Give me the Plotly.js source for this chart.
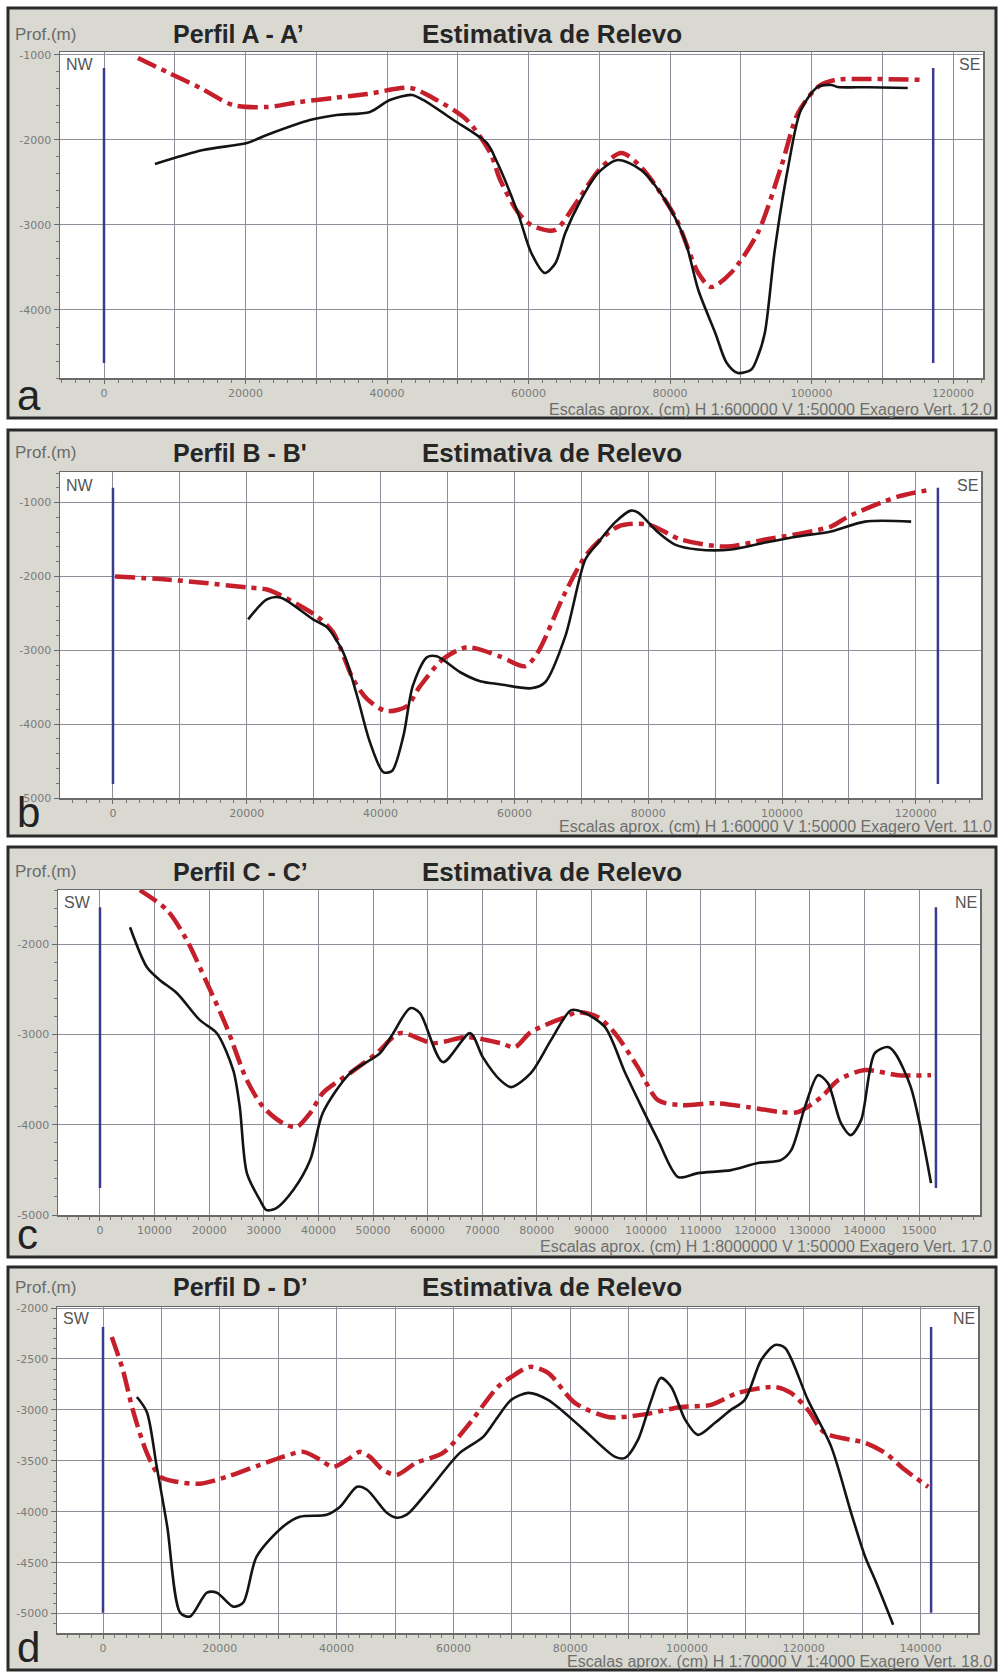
<!DOCTYPE html>
<html><head><meta charset="utf-8">
<script src="https://cdn.plot.ly/plotly-3.0.1.min.js"></script>
<style>html,body{margin:0;padding:0;background:#fff;}#chart{width:998px;height:1672px;}</style>
</head><body><div id="chart"></div>
<script>
// ---------------- DATA ----------------
// Panel a : Perfil A - A'
const aBlackX = [7200,14000,20200,23000,29100,32900,37600,40400,43500,45100,49400,54100,55500,58500,60400,62300,63800,65200,67400,69800,72600,75900,79300,82100,84000,86400,88000,89600,91500,92400,93400,94800,96700,98500,100900,102800,103700,108000,113600];
const aBlackY = [-2282,-2118,-2035,-1941,-1765,-1706,-1670,-1529,-1470,-1529,-1765,-2035,-2250,-2860,-3330,-3565,-3450,-3094,-2706,-2390,-2235,-2353,-2706,-3176,-3765,-4270,-4620,-4741,-4700,-4550,-4270,-3300,-2318,-1647,-1376,-1353,-1376,-1380,-1388];
const aRedX = [4800,8900,13600,18200,23000,27700,32400,37200,43300,46500,51300,54600,56000,58500,60400,63700,67000,70000,73100,75900,80700,84000,85800,88600,92400,95700,98100,100900,103300,107600,116000];
const aRedY = [-1035,-1200,-1388,-1588,-1612,-1553,-1506,-1459,-1388,-1506,-1765,-2153,-2470,-2850,-3000,-3060,-2706,-2350,-2153,-2318,-2900,-3565,-3730,-3565,-3094,-2318,-1682,-1376,-1294,-1282,-1294];
const aBoundX = [0, 117200];
const aBoundY = [-1153, -4624];
const aXTicks = [0,10000,20000,30000,40000,50000,60000,70000,80000,90000,100000,110000,120000];
const aXLabels = ['0','','20000','','40000','','60000','','80000','','100000','','120000'];
const aYTicks = [-1000,-2000,-3000,-4000];
const aYLabels = ['-1000','-2000','-3000','-4000'];

// Panel b : Perfil B - B'
const bBlackX = [20200,23000,25000,29900,32000,34400,36500,38400,40400,41700,43400,44800,46900,48400,51900,54900,57800,62500,64600,67600,70600,72500,75000,77400,78500,81500,84000,87400,92400,97500,102400,107300,112400,119300];
const bBlackY = [-2581,-2311,-2284,-2581,-2689,-3027,-3622,-4243,-4649,-4635,-4162,-3486,-3095,-3081,-3297,-3419,-3459,-3514,-3432,-2811,-1770,-1541,-1270,-1108,-1135,-1405,-1568,-1635,-1635,-1541,-1459,-1392,-1257,-1257];
const bRedX = [300,8000,13000,20000,23000,25400,30500,32900,35900,38000,40900,43900,45900,49300,52900,57800,61600,63500,67600,71000,75500,80000,84900,91500,97500,107300,109900,117300,122300];
const bRedY = [-2000,-2041,-2081,-2149,-2176,-2270,-2541,-2757,-3392,-3662,-3824,-3757,-3486,-3122,-2959,-3081,-3216,-3027,-2216,-1676,-1324,-1297,-1500,-1595,-1500,-1324,-1189,-919,-824];
const bBoundX = [0, 123300];
const bBoundY = [-797, -4811];
const bXTicks = aXTicks;
const bXLabels = aXLabels;
const bYTicks = [-1000,-2000,-3000,-4000,-5000];
const bYLabels = ['-1000','-2000','-3000','-4000','-5000'];

// Panel c : Perfil C - C'
const cBlackX = [5500,8600,11000,14100,18300,21400,24400,25600,26900,29300,30500,32300,35400,38500,40800,45800,51300,53700,56800,58600,62800,67800,70100,73300,75300,78900,82600,86300,88800,92500,96200,99200,102200,105900,109500,115600,120500,124700,126600,129100,131500,133300,135700,137500,139400,141900,144300,145600,148500,152200];
const cBlackY = [-1812,-2255,-2399,-2543,-2842,-2986,-3395,-3805,-4536,-4835,-4946,-4924,-4724,-4392,-3871,-3428,-3207,-2986,-2709,-2764,-3306,-2986,-3251,-3506,-3583,-3428,-3063,-2731,-2764,-2919,-3428,-3805,-4170,-4580,-4536,-4503,-4425,-4392,-4281,-3805,-3451,-3539,-3982,-4115,-3949,-3207,-3140,-3207,-3583,-4647];
const cRedX = [7300,12300,15900,19600,23200,26900,29900,33500,36000,38500,40800,45800,50700,54900,61000,67200,73300,76000,78900,85200,87500,91200,94300,98500,102200,106400,112600,118700,124700,127800,132100,135200,140100,146200,152200];
const cRedY = [-1402,-1624,-1956,-2432,-2919,-3506,-3805,-3982,-4026,-3871,-3650,-3428,-3207,-2986,-3096,-3030,-3096,-3140,-2974,-2808,-2753,-2808,-2986,-3362,-3728,-3783,-3761,-3805,-3860,-3860,-3694,-3506,-3395,-3451,-3451];
const cBoundX = [0, 153100];
const cBoundY = [-1590, -4700];
const cXTicks = [0,10000,20000,30000,40000,50000,60000,70000,80000,90000,100000,110000,120000,130000,140000,150000];
const cXLabels = ['0','10000','20000','30000','40000','50000','60000','70000','80000','90000','100000','110000','120000','130000','140000','15000'];
const cYTicks = [-2000,-3000,-4000,-5000];
const cYLabels = ['-2000','-3000','-4000','-5000'];

// Panel d : Perfil D - D'
const dBlackX = [5800,7500,9200,11000,13200,14900,17800,19500,22300,24000,26300,30800,33700,38300,40600,43500,45200,48600,50300,52000,55400,61100,65100,67600,69900,72800,76200,81800,87700,89400,91600,93900,95500,97300,99700,101900,104800,107500,109900,112700,115100,116800,120700,124700,128100,130500,132200,135300];
const dBlackY = [-2873,-3020,-3559,-4147,-4990,-5029,-4794,-4794,-4931,-4892,-4441,-4147,-4049,-4029,-3951,-3755,-3784,-4010,-4059,-4029,-3814,-3422,-3265,-3069,-2902,-2833,-2902,-3167,-3461,-3471,-3294,-2902,-2686,-2775,-3098,-3245,-3127,-3000,-2902,-2510,-2363,-2392,-2902,-3363,-4010,-4441,-4667,-5108];
const dRedX = [1500,3400,5100,7500,9800,12700,16600,21200,26900,30800,34300,37200,39400,42300,44000,45700,47900,50300,53600,58200,62300,67600,69900,73100,76200,80800,86500,92100,99000,104100,108700,115100,117800,120700,123600,130500,133900,137300,141300];
const dRedY = [-2284,-2608,-3000,-3422,-3657,-3706,-3725,-3657,-3539,-3461,-3412,-3490,-3559,-3471,-3412,-3461,-3588,-3637,-3520,-3422,-3167,-2775,-2677,-2578,-2637,-2931,-3069,-3049,-2971,-2951,-2833,-2775,-2833,-3000,-3226,-3324,-3422,-3588,-3755];
const dBoundX = [0, 141800];
const dBoundY = [-2186, -4990];
const dXTicks = [0,10000,20000,30000,40000,50000,60000,70000,80000,90000,100000,110000,120000,130000,140000];
const dXLabels = ['0','','20000','','40000','','60000','','80000','','100000','','120000','','140000'];
const dYTicks = [-2000,-2500,-3000,-3500,-4000,-4500,-5000];
const dYLabels = ['-2000','-2500','-3000','-3500','-4000','-4500','-5000'];

const perfilTitles = ['Perfil A - A\u2019', "Perfil B - B'", 'Perfil C - C\u2019', 'Perfil D - D\u2019'];
const mainTitle = 'Estimativa de Relevo';
const yUnit = 'Prof.(m)';
const panelLetters = ['a','b','c','d'];
const leftDirs = ['NW','NW','SW','SW'];
const rightDirs = ['SE','SE','NE','NE'];
const escalas = [
  'Escalas aprox. (cm) H 1:600000 V 1:50000 Exagero Vert. 12.0',
  'Escalas aprox. (cm) H 1:60000 V 1:50000 Exagero Vert. 11.0',
  'Escalas aprox. (cm) H 1:8000000 V 1:50000 Exagero Vert. 17.0',
  'Escalas aprox. (cm) H 1:70000 V 1:4000 Exagero Vert. 18.0'
];

// ---------------- LAYOUT ----------------
const W = 998, H = 1672;
const PX = p => p / W;
const PY = p => 1 - p / H;
const FONT = 'Liberation Sans, Arial, Helvetica, sans-serif';

const panels = [
  {bx:aBlackX, by:aBlackY, rx:aRedX, ry:aRedY, ux:aBoundX, uy:aBoundY, xt:aXTicks, xl:aXLabels, yt:aYTicks, yl:aYLabels,
   frame:[8,8,996,418], plot:[60,52,983,378], xr:[-6220,124240], yr:[-4800,-965], titleY:34, escY:409, yMinor:200, xMinor:2000,
   dirY:55, letterY:420},
  {bx:bBlackX, by:bBlackY, rx:bRedX, ry:bRedY, ux:bBoundX, uy:bBoundY, xt:bXTicks, xl:bXLabels, yt:bYTicks, yl:bYLabels,
   frame:[8,430,996,836], plot:[60,472,981,798], xr:[-7920,129740], yr:[-5000,-585], titleY:453, escY:826, yMinor:200, xMinor:2000,
   dirY:476, letterY:837},
  {bx:cBlackX, by:cBlackY, rx:cRedX, ry:cRedY, ux:cBoundX, uy:cBoundY, xt:cXTicks, xl:cXLabels, yt:cYTicks, yl:cYLabels,
   frame:[8,847,996,1257], plot:[58,890,980,1215], xr:[-7690,161170], yr:[-5000,-1400], titleY:872, escY:1246, yMinor:200, xMinor:2000,
   dirY:893, letterY:1259},
  {bx:dBlackX, by:dBlackY, rx:dRedX, ry:dRedY, ux:dBoundX, uy:dBoundY, xt:dXTicks, xl:dXLabels, yt:dYTicks, yl:dYLabels,
   frame:[8,1267,996,1670], plot:[57,1307,978,1633], xr:[-7880,149830], yr:[-5190,-1990], titleY:1287, escY:1661, yMinor:100, xMinor:2000,
   dirY:1309, letterY:1672}
];

const traces = [];
const layout = {
  width: W, height: H,
  margin: {l:0, r:0, t:0, b:0},
  paper_bgcolor: '#ffffff',
  plot_bgcolor: 'rgba(0,0,0,0)',
  showlegend: false,
  font: {family: FONT},
  shapes: [],
  annotations: []
};

panels.forEach((p, i) => {
  const n = i === 0 ? '' : String(i + 1);
  const xa = 'x' + n, ya = 'y' + n;
  const [fx0, fy0, fx1, fy1] = p.frame;
  const [px0, py0, px1, py1] = p.plot;

  // boundary (blue) vertical lines
  traces.push({
    x: [p.ux[0], p.ux[0], null, p.ux[1], p.ux[1]],
    y: [p.uy[0], p.uy[1], null, p.uy[0], p.uy[1]],
    xaxis: xa, yaxis: ya, mode: 'lines', hoverinfo: 'skip',
    line: {color: '#3c3c8e', width: 2.5}
  });
  // red dash-dot profile
  traces.push({
    x: p.rx, y: p.ry, xaxis: xa, yaxis: ya, mode: 'lines', hoverinfo: 'skip',
    line: {color: '#c41f2b', width: 4.5, dash: '20px,6px,5px,6px', shape: 'spline', smoothing: 0.8}
  });
  // black profile
  traces.push({
    x: p.bx, y: p.by, xaxis: xa, yaxis: ya, mode: 'lines', hoverinfo: 'skip',
    line: {color: '#141414', width: 2.6, shape: 'spline', smoothing: 0.8}
  });

  const tickFont = {family: 'DejaVu Sans, sans-serif', size: 11, color: '#7a7a7a'};
  layout['xaxis' + n] = {
    domain: [PX(px0), PX(px1)], range: p.xr, anchor: ya,
    tickmode: 'array', tickvals: p.xt, ticktext: p.xl,
    showgrid: true, gridcolor: '#8e8e9a', gridwidth: 1, zeroline: false,
    showline: true, linecolor: '#6a6a6a', linewidth: 1.5, mirror: true,
    ticks: 'outside', ticklen: 4, tickcolor: '#6a6a6a', tickfont: tickFont,
    minor: {dtick: p.xMinor, tick0: 0, ticks: 'outside', ticklen: 3, tickcolor: '#777', showgrid: false},
    fixedrange: true
  };
  layout['yaxis' + n] = {
    domain: [PY(py1), PY(py0)], range: p.yr, anchor: xa,
    tickmode: 'array', tickvals: p.yt, ticktext: p.yl,
    showgrid: true, gridcolor: '#8e8e9a', gridwidth: 1, zeroline: false,
    showline: true, linecolor: '#6a6a6a', linewidth: 1.5, mirror: true,
    ticks: 'outside', ticklen: 5, tickcolor: '#6a6a6a', tickfont: tickFont,
    minor: {dtick: p.yMinor, tick0: 0, ticks: 'outside', ticklen: 3, tickcolor: '#777', showgrid: false},
    fixedrange: true
  };

  // panel frame (grey) and white plot area
  layout.shapes.push({type: 'rect', xref: 'paper', yref: 'paper', layer: 'below',
    x0: PX(fx0), x1: PX(fx1), y0: PY(fy1), y1: PY(fy0),
    fillcolor: '#d9d9d1', line: {color: '#2a2a2a', width: 3}});
  layout.shapes.push({type: 'rect', xref: 'paper', yref: 'paper', layer: 'below',
    x0: PX(px0), x1: PX(px1), y0: PY(py1), y1: PY(py0),
    fillcolor: '#ffffff', line: {width: 0}});

  const ann = (text, x, y, xanchor, yanchor, font) => layout.annotations.push({
    text, x: PX(x), y: PY(y), xref: 'paper', yref: 'paper', xanchor, yanchor,
    showarrow: false, font, borderpad: 0
  });
  ann(yUnit, 14, p.titleY, 'left', 'middle', {family: FONT, size: 17, color: '#6a6a6a'});
  ann(perfilTitles[i], 172, p.titleY, 'left', 'middle', {family: FONT, size: 25, color: '#262626', weight: 'bold'});
  ann(mainTitle, 421, p.titleY, 'left', 'middle', {family: FONT, size: 26, color: '#262626', weight: 'bold'});
  ann(leftDirs[i], px0 + 5, p.dirY, 'left', 'top', {family: FONT, size: 16, color: '#555'});
  ann(rightDirs[i], px1 - 2, p.dirY, 'right', 'top', {family: FONT, size: 16, color: '#555'});
  ann(panelLetters[i], 16, p.letterY, 'left', 'bottom', {family: FONT, size: 42, color: '#222'});
  ann(escalas[i], 993, p.escY, 'right', 'middle', {family: FONT, size: 16, color: '#6e6e6e'});
});

Plotly.newPlot('chart', traces, layout, {staticPlot: true, displayModeBar: false});
</script>
</body></html>
